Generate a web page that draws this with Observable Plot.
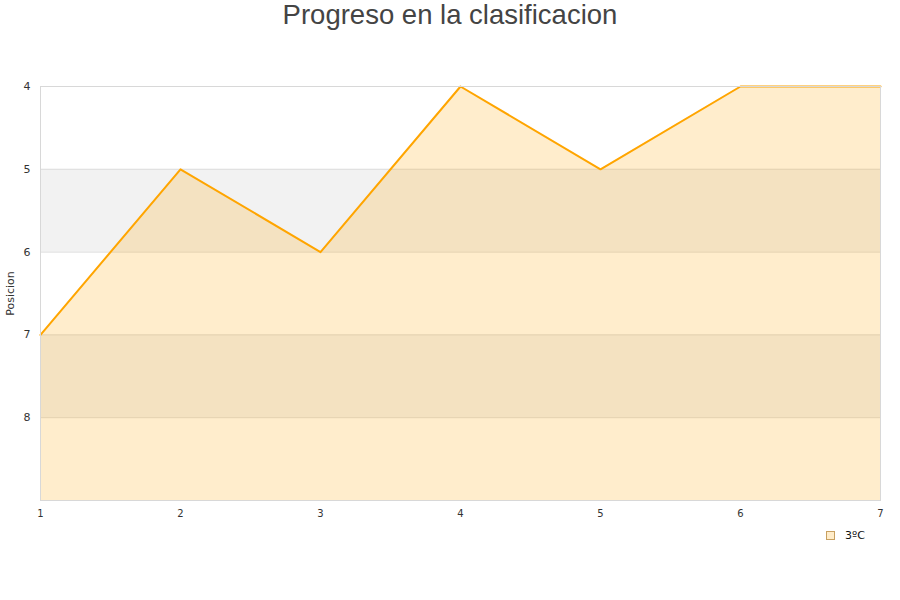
<!DOCTYPE html>
<html>
<head>
<meta charset="utf-8">
<script src="https://cdn.jsdelivr.net/npm/d3@7"></script>
<script src="https://cdn.jsdelivr.net/npm/@observablehq/plot@0.6"></script>
<style>
  body { margin: 0; background: #fff; }
  #wrap { position: relative; width: 900px; height: 600px; overflow: hidden; }
  #title { position: absolute; left: 0; top: 0; width: 900px; height: 32px; text-align: center;
           font-family: "Liberation Sans", Arial, sans-serif; font-size: 27.5px; color: #444; line-height: 30px; }
  #chart { position: absolute; left: 0; top: 32px; }
  #legend { position: absolute; left: 826px; top: 529px; font-family: "DejaVu Sans", sans-serif; font-size: 11px; color: #111;
            display: flex; align-items: center; }
  #legend .sw { width: 7px; height: 7px; border: 1px solid #c8a060; background: #ffecc9; margin-right: 10px; }
</style>
</head>
<body>
<div id="wrap">
  <div id="title">Progreso en la clasificacion</div>
  <div id="chart"></div>
  <div id="legend"><div class="sw"></div><span>3ºC</span></div>
</div>
<script>
const jornadas = [1, 2, 3, 4, 5, 6, 7];
const posiciones = [7, 5, 6, 4, 5, 4, 4];
const yTicks = [4, 5, 6, 7, 8];
const bandStarts = [5, 7];
const bandEnds = [6, 8];
const seriesName = "3ºC";

const data = jornadas.map((j, i) => ({x: j, y: posiciones[i]}));
const bands = bandStarts.map((s, i) => ({a: s, b: bandEnds[i]}));

const plot = Plot.plot({
  width: 900,
  height: 568,
  marginLeft: 40,
  marginRight: 20,
  marginTop: 54,
  marginBottom: 100,
  style: {fontFamily: "DejaVu Sans, sans-serif", fontSize: "11px", color: "#333", background: "#fff"},
  x: {domain: [1, 7]},
  y: {domain: [4, 9], reverse: true},
  marks: [
    Plot.rect(bands, {x1: () => 1, x2: () => 7, y1: "a", y2: "b", fill: "#f2f2f2"}),
    Plot.ruleY([5, 6, 7, 8], {stroke: "#dcdcdc", strokeWidth: 1}),
    Plot.areaY(data, {x: "x", y1: () => 9, y2: "y", fill: "orange", fillOpacity: 0.2}),
    Plot.line(data, {x: "x", y: "y", stroke: "#ffa500", strokeWidth: 2}),
    Plot.frame({stroke: "#d8d8d8"}),
    Plot.axisX({ticks: jornadas, tickSize: 0, tickPadding: 9, tickFormat: d3.format("d"), label: null, fontSize: 10}),
    Plot.axisY({ticks: yTicks, tickSize: 0, tickPadding: 10, tickFormat: d3.format("d"), label: "Posicion", labelAnchor: "center", labelArrow: "none", labelOffset: 34})
  ]
});
document.getElementById("chart").appendChild(plot);
</script>
</body>
</html>
